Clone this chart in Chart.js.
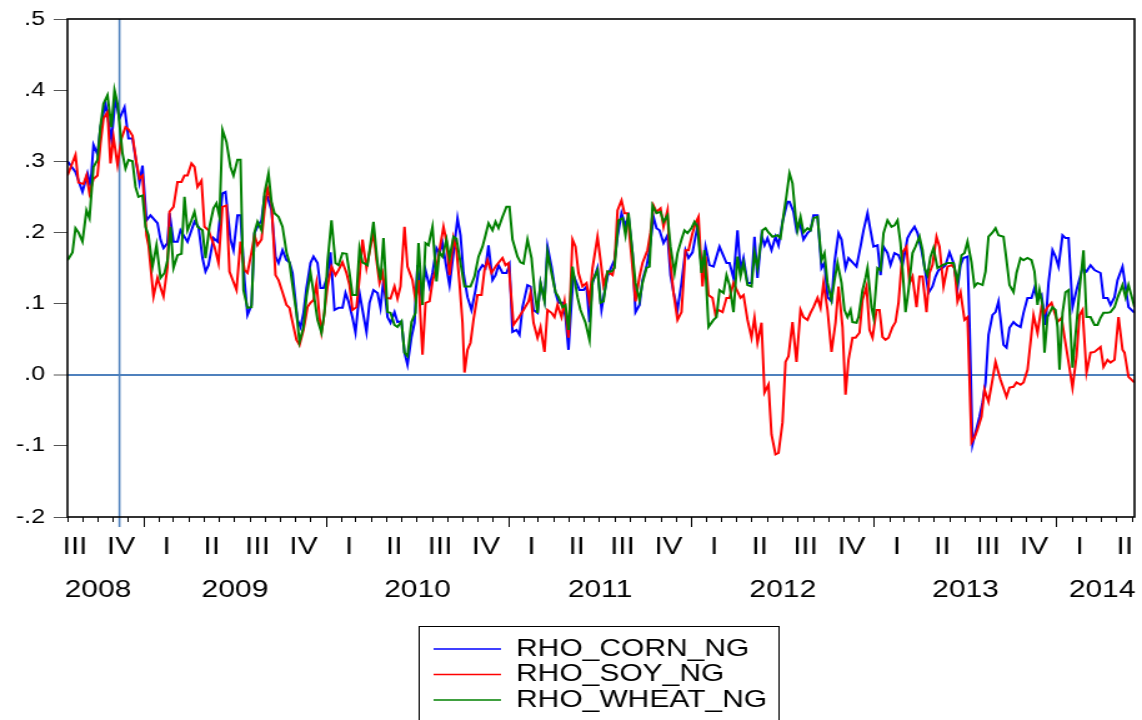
<!DOCTYPE html>
<html>
<head>
<meta charset="utf-8">
<script src="https://cdn.jsdelivr.net/npm/chart.js@4.4.0/dist/chart.umd.min.js"></script>
<style>
    html, body { margin: 0; padding: 0; background: #fff; }
    /* the original picture is stretched sideways, so the canvas is drawn narrow and shown wide */
    #chart { display: block; width: 1142px !important; height: 720px !important; }
</style>
</head>
<body>
<canvas id="chart" width="914" height="720" style="width:1142px;height:720px"></canvas>
<script>
const cornDays = [0,16,30,40,46,52,60,66,76,88,96,104,114,122,130,144,150,158,166,180,186,192,200,204,212,220,226,240,254,262,270,276,282,292,300,310,316,326,332,340,346,354,360,368,374,380,388,394,400,408,416,422,430,438,444,450,460,466,472,478,486,492,500,506,512,520,526,534,542,550,556,562,570,576,584,590,598,604,612,620,626,632,640,646,654,660,668,674,680,688,694,700,708,716,724,730,738,744,750,758,764,772,780,786,792,800,808,816,822,830,836,842,850,856,862,870,878,884,890,898,904,910,920,926,932,940,946,954,960,968,976,982,990,996,1002,1008,1012,1024,1032,1038,1044,1050,1060,1068,1074,1080,1088,1094,1100,1108,1116,1122,1130,1136,1144,1150,1158,1164,1172,1178,1184,1192,1200,1206,1212,1220,1228,1236,1242,1250,1256,1260,1270,1276,1284,1292,1304,1318,1324,1332,1340,1346,1352,1360,1368,1374,1380,1388,1394,1400,1408,1416,1422,1430,1440,1444,1452,1458,1464,1472,1480,1486,1492,1500,1508,1514,1520,1528,1534,1542,1548,1556,1562,1570,1578,1586,1592,1600,1606,1612,1620,1626,1632,1640,1646,1654,1662,1670,1680,1686,1694,1700,1708,1714,1722,1730,1736,1742,1750,1756,1764,1772,1780,1786,1792,1800,1804,1810,1816,1824,1830,1836,1842,1850,1856,1862,1872,1878,1884,1892,1898,1906,1912,1920,1928,1934,1940,1948,1956,1962,1970,1976,1982,1990,1996,2002,2010,2018,2030,2038,2046,2054,2066,2072,2080,2086,2094,2100,2110,2116,2122,2134];
const cornRho = [.30,.285,.257,.283,.265,.323,.31,.348,.381,.33,.388,.36,.376,.332,.332,.27,.294,.217,.224,.213,.19,.178,.185,.227,.187,.187,.203,.187,.215,.208,.164,.145,.154,.192,.187,.255,.257,.19,.175,.224,.224,.133,.084,.098,.199,.208,.217,.25,.25,.231,.166,.157,.175,.161,.158,.143,.077,.067,.087,.122,.157,.166,.157,.122,.122,.138,.172,.091,.094,.094,.115,.103,.08,.059,.115,.091,.06,.101,.119,.115,.094,.133,.081,.073,.088,.074,.075,.031,.014,.053,.073,.154,.109,.147,.124,.143,.178,.171,.185,.15,.126,.171,.22,.196,.143,.109,.091,.119,.145,.154,.15,.182,.133,.14,.154,.143,.143,.154,.06,.063,.056,.095,.126,.124,.091,.087,.129,.105,.18,.152,.115,.101,.101,.081,.035,.101,.14,.119,.119,.124,.074,.129,.15,.091,.116,.138,.152,.161,.194,.227,.21,.222,.171,.088,.098,.133,.152,.175,.222,.206,.203,.185,.196,.14,.116,.091,.129,.175,.164,.172,.194,.208,.14,.18,.154,.152,.18,.157,.157,.136,.203,.147,.164,.129,.129,.194,.136,.196,.182,.192,.175,.194,.182,.215,.243,.243,.229,.203,.215,.19,.199,.203,.224,.224,.15,.157,.109,.103,.158,.199,.19,.15,.164,.158,.152,.18,.203,.227,.203,.18,.182,.14,.18,.171,.154,.171,.168,.154,.192,.2,.208,.199,.175,.152,.115,.124,.138,.147,.15,.154,.172,.157,.122,.154,.164,.166,.073,-.098,-.081,-.059,-.039,-.011,.056,.084,.088,.103,.042,.038,.066,.074,.07,.067,.087,.108,.108,.122,.105,.112,.07,.129,.175,.166,.152,.196,.192,.192,.095,.119,.15,.145,.154,.147,.143,.108,.108,.098,.109,.133,.152,.124,.095,.087];

const soyDays = [0,16,22,32,38,44,52,60,66,72,80,86,92,100,108,116,122,130,138,144,150,158,162,172,180,192,200,204,212,220,228,234,240,248,254,260,268,274,282,294,302,310,318,324,338,346,354,360,368,374,380,388,394,400,408,416,422,430,438,444,450,458,464,472,480,486,492,498,504,508,512,520,528,536,542,550,558,564,570,578,584,590,598,604,612,618,624,630,638,646,654,660,666,674,680,690,696,702,710,716,724,730,738,744,752,758,764,772,778,784,790,794,800,806,812,820,828,834,840,848,858,870,876,882,892,902,912,922,926,932,940,946,954,960,968,974,980,988,994,1002,1010,1016,1022,1030,1038,1044,1050,1060,1066,1072,1080,1090,1094,1100,1108,1114,1120,1128,1136,1144,1150,1160,1166,1172,1178,1186,1192,1200,1204,1212,1220,1228,1236,1242,1250,1256,1262,1270,1276,1282,1290,1296,1302,1310,1318,1324,1332,1346,1352,1360,1368,1374,1380,1388,1394,1402,1408,1416,1422,1430,1436,1442,1450,1458,1466,1472,1480,1486,1492,1500,1506,1512,1520,1528,1536,1542,1550,1556,1562,1570,1576,1584,1590,1598,1604,1610,1618,1624,1630,1636,1642,1650,1656,1662,1670,1678,1684,1690,1698,1704,1710,1718,1724,1730,1738,1744,1752,1760,1768,1774,1780,1786,1794,1800,1808,1814,1820,1828,1834,1842,1850,1856,1866,1878,1884,1892,1898,1906,1912,1920,1932,1940,1948,1954,1960,1968,1980,1988,1994,2002,2010,2018,2024,2030,2038,2046,2054,2066,2072,2080,2086,2094,2102,2110,2114,2122,2134];
const soyRho = [.28,.309,.27,.268,.28,.255,.275,.28,.325,.36,.369,.297,.334,.295,.332,.348,.345,.336,.297,.276,.28,.196,.182,.11,.136,.11,.152,.229,.236,.271,.271,.28,.28,.297,.292,.264,.273,.208,.203,.18,.157,.236,.238,.145,.119,.187,.147,.143,.172,.196,.182,.19,.231,.262,.241,.14,.133,.116,.098,.094,.074,.049,.042,.063,.095,.101,.105,.129,.081,.06,.077,.124,.152,.14,.147,.158,.143,.126,.091,.095,.136,.19,.15,.172,.2,.161,.129,.143,.108,.107,.124,.107,.124,.208,.152,.133,.105,.133,.028,.101,.103,.131,.152,.175,.208,.187,.14,.192,.175,.129,.073,.003,.035,.045,.077,.112,.112,.147,.161,.143,.154,.164,.154,.157,.07,.08,.091,.103,.115,.073,.052,.067,.032,.091,.087,.081,.098,.081,.103,.052,.19,.18,.143,.124,.129,.103,.15,.194,.161,.126,.145,.14,.154,.231,.245,.227,.227,.166,.103,.138,.157,.175,.2,.238,.229,.234,.208,.231,.171,.115,.077,.088,.175,.175,.199,.213,.222,.124,.166,.112,.108,.084,.091,.088,.108,.108,.129,.108,.112,.077,.052,.08,.045,.073,-.025,-.014,-.084,-.112,-.11,-.067,.018,.026,.074,.018,.091,.081,.077,.087,.095,.108,.094,.129,.091,.032,.073,.124,.067,-.028,.021,.052,.052,.059,.105,.124,.063,.052,.091,.091,.053,.049,.052,.067,.074,.101,.172,.18,.129,.138,.095,.138,.138,.088,.143,.154,.194,.18,.124,.152,.154,.15,.103,.116,.077,.081,-.095,-.088,-.077,-.059,-.021,-.038,-.007,.018,-.007,-.031,-.018,-.017,-.011,-.014,-.011,.007,.084,.059,.095,.087,.095,.101,.074,.08,.053,.018,-.018,.026,.084,.091,.003,.031,.032,.039,.011,.021,.017,.021,.081,.035,.031,-.003,-.011];

const wheatDays = [0,10,16,22,30,38,44,52,60,66,72,80,88,94,100,110,116,122,130,136,142,150,156,162,170,178,186,194,200,206,212,220,228,234,240,248,254,260,270,276,284,292,298,304,310,318,326,332,340,346,352,360,368,374,380,388,394,402,408,414,422,430,438,444,450,458,464,472,478,486,492,500,508,514,520,528,536,542,550,558,564,570,578,584,590,600,612,620,626,632,640,646,654,660,668,674,680,688,696,702,710,716,722,730,738,744,750,758,764,772,778,786,794,806,814,822,830,836,842,850,856,862,870,878,884,890,900,906,912,920,928,934,940,946,954,960,968,976,982,990,996,1002,1010,1020,1026,1036,1044,1050,1060,1066,1072,1080,1088,1094,1102,1110,1116,1122,1130,1136,1144,1150,1158,1164,1170,1178,1186,1192,1200,1206,1214,1220,1228,1234,1240,1248,1254,1260,1268,1274,1282,1292,1298,1304,1312,1318,1324,1332,1340,1346,1352,1360,1368,1374,1380,1390,1396,1402,1410,1420,1426,1432,1438,1444,1450,1456,1460,1466,1472,1480,1486,1492,1500,1508,1514,1520,1528,1534,1540,1548,1554,1560,1566,1570,1578,1582,1590,1596,1600,1608,1612,1620,1626,1632,1640,1648,1654,1660,1666,1672,1676,1682,1690,1696,1704,1710,1714,1720,1726,1732,1740,1750,1760,1772,1780,1788,1794,1800,1808,1814,1820,1830,1836,1842,1850,1856,1862,1872,1878,1884,1892,1898,1906,1912,1920,1928,1934,1940,1944,1950,1954,1960,1970,1976,1980,1984,1990,1996,2002,2010,2020,2024,2032,2038,2046,2054,2060,2066,2072,2080,2086,2094,2100,2110,2116,2122,2134];
const wheatRho = [.161,.172,.206,.2,.187,.231,.22,.292,.302,.35,.381,.393,.348,.4,.381,.311,.29,.302,.3,.264,.25,.252,.208,.196,.152,.182,.136,.143,.161,.208,.15,.168,.17,.25,.203,.217,.229,.208,.203,.164,.208,.234,.241,.222,.344,.327,.292,.28,.302,.302,.119,.094,.095,.2,.215,.203,.255,.283,.243,.227,.222,.208,.172,.157,.126,.087,.046,.067,.11,.143,.116,.077,.059,.088,.158,.217,.157,.154,.171,.17,.143,.112,.112,.178,.158,.154,.215,.157,.133,.192,.088,.087,.07,.067,.075,.031,.026,.074,.087,.185,.098,.185,.182,.208,.131,.172,.166,.19,.164,.194,.191,.157,.124,.124,.138,.166,.18,.196,.213,.203,.215,.206,.222,.236,.236,.19,.166,.158,.156,.19,.164,.119,.087,.129,.103,.172,.143,.116,.109,.095,.098,.063,.152,.109,.091,.073,.049,.131,.147,.101,.103,.145,.145,.15,.217,.22,.196,.227,.171,.129,.105,.129,.15,.152,.238,.227,.229,.215,.224,.18,.143,.171,.19,.203,.199,.206,.215,.208,.143,.175,.067,.077,.081,.119,.115,.14,.126,.088,.166,.138,.157,.126,.124,.171,.15,.203,.206,.2,.194,.196,.192,.224,.252,.283,.269,.224,.203,.222,.2,.206,.203,.22,.222,.161,.171,.129,.105,.133,.157,.129,.091,.081,.091,.074,.073,.081,.119,.136,.15,.095,.081,.15,.147,.199,.217,.208,.21,.217,.185,.129,.088,.119,.171,.18,.194,.175,.15,.14,.166,.178,.15,.154,.157,.157,.131,.168,.171,.187,.158,.124,.129,.126,.145,.194,.2,.206,.196,.194,.161,.126,.116,.143,.164,.161,.164,.161,.145,.098,.119,.098,.031,.081,.095,.091,.067,.007,.087,.116,.119,.01,.087,.119,.175,.081,.081,.07,.07,.08,.087,.087,.088,.095,.108,.126,.109,.126,.095];

// axis text: one roman numeral per quarter from 2008 Q3 to 2014 Q2, and the years
const quarterLabels = ['III','IV','I','II','III','IV','I','II','III','IV','I','II','III','IV','I','II','III','IV','I','II','III','IV','I','II'];
const yearLabels = ['2008','2009','2010','2011','2012','2013','2014'];
const firstYear = 2008;
const firstQuarter = 3;
const breakDay = 104; // the vertical marker in 2008 Q4

const origin = Date.UTC(2008, 7, 1);
const dayOf = (y, m) => (Date.UTC(y, m, 1) - origin) / 86400000;
const lastDay = Math.max(cornDays[cornDays.length - 1], soyDays[soyDays.length - 1], wheatDays[wheatDays.length - 1]);

// quarter centres, year boundaries and month boundaries on the day axis
const quarterCenters = quarterLabels.map((q, k) => {
    const n = firstQuarter - 1 + k;
    const y = firstYear + Math.floor(n / 4);
    const m = (n % 4) * 3;
    return { year: y, value: (dayOf(y, m) + dayOf(y, m + 3)) / 2 };
});
const yearCenters = yearLabels.map(label => {
    const qs = quarterCenters.filter(q => q.year === Number(label));
    return (qs[0].value + qs[qs.length - 1].value) / 2;
});
const yearStarts = yearLabels.map(label => dayOf(Number(label), 0)).filter(d => d > 0 && d < lastDay);
const monthStarts = [];
for (let i = 0; dayOf(2008, 7 + i) <= lastDay; i++) monthStarts.push(dayOf(2008, 7 + i));

const toPoints = (days, vals) => days.map((d, i) => ({ x: d, y: vals[i] }));

// eviews style: .5, .0, -.1
const rhoLabel = v => {
    if (Math.abs(v) < 1e-9) return '.0';
    return v.toFixed(1).replace(/^(-?)0\./, '$1.');
};

Chart.defaults.font.family = '"Liberation Sans", Arial, sans-serif';
Chart.defaults.font.size = 24;
Chart.defaults.color = '#000';

// break marker under the lines, black frame over them
const frame = {
    id: 'frame',
    beforeDatasetsDraw(chart) {
        const { ctx, chartArea: a, scales: { x } } = chart;
        const px = x.getPixelForValue(breakDay);
        ctx.save();
        ctx.strokeStyle = '#4f81bd';
        ctx.lineWidth = 1.6;
        ctx.beginPath();
        ctx.moveTo(px, a.top);
        ctx.lineTo(px, a.bottom + 10);
        ctx.stroke();
        ctx.restore();
    },
    afterDatasetsDraw(chart) {
        const { ctx, chartArea: a } = chart;
        ctx.save();
        ctx.strokeStyle = '#000';
        ctx.lineWidth = 1.6;
        ctx.strokeRect(a.left, a.top, a.right - a.left, a.bottom - a.top);
        ctx.restore();
    }
};

// boxed legend under the axis
const boxLegend = {
    id: 'boxLegend',
    afterDraw(chart) {
        const ctx = chart.ctx;
        const left = 335, top = 626;
        ctx.save();
        ctx.strokeStyle = '#000';
        ctx.lineWidth = 1;
        ctx.strokeRect(left + 0.5, top + 0.5, 288, 110);
        ctx.font = '24px "Liberation Sans", Arial, sans-serif';
        ctx.textBaseline = 'middle';
        chart.data.datasets.forEach((ds, i) => {
            const y = top + 23 + i * 25.5;
            ctx.strokeStyle = ds.borderColor;
            ctx.lineWidth = 1.5;
            ctx.beginPath();
            ctx.moveTo(left + 12, y);
            ctx.lineTo(left + 66, y);
            ctx.stroke();
            ctx.fillStyle = '#000';
            ctx.fillText(ds.label, left + 78, y);
        });
        ctx.restore();
    }
};

const isZero = c => c.tick && Math.abs(c.tick.value) < 1e-9;

new Chart(document.getElementById('chart'), {
    type: 'line',
    data: {
        datasets: [
            { label: 'RHO_CORN_NG', data: toPoints(cornDays, cornRho), borderColor: '#0000ff', order: 3 },
            { label: 'RHO_SOY_NG', data: toPoints(soyDays, soyRho), borderColor: '#ff0000', order: 2 },
            { label: 'RHO_WHEAT_NG', data: toPoints(wheatDays, wheatRho), borderColor: '#008000', order: 1 }
        ]
    },
    options: {
        responsive: false,
        animation: false,
        devicePixelRatio: 1,
        elements: {
            line: { borderWidth: 2, tension: 0, fill: false },
            point: { radius: 0 }
        },
        layout: { padding: { left: 0, right: 6, top: 18, bottom: 113 } },
        plugins: { legend: { display: false }, tooltip: { enabled: false } },
        scales: {
            x: {
                type: 'linear', position: 'bottom', weight: 0, min: 0, max: lastDay,
                afterBuildTicks: s => { s.ticks = monthStarts.map(v => ({ value: v })); },
                afterFit: s => { s.height = 5; },
                ticks: { display: false },
                grid: { drawOnChartArea: false, tickLength: 5, tickWidth: 1, tickColor: '#000' },
                border: { display: false }
            },
            xq: {
                type: 'linear', position: 'bottom', weight: 1, min: 0, max: lastDay,
                afterBuildTicks: s => {
                    s.ticks = quarterCenters.map(q => ({ value: q.value })).concat(yearStarts.map(v => ({ value: v })));
                },
                afterFit: s => { s.height = 45; },
                ticks: {
                    autoSkip: false, maxRotation: 0, padding: 6,
                    callback: (v, i) => (i < quarterLabels.length ? quarterLabels[i] : '')
                },
                grid: {
                    drawOnChartArea: false, tickLength: 5, tickWidth: 1,
                    tickColor: c => (c.index >= quarterLabels.length ? '#000' : 'rgba(0,0,0,0)')
                },
                border: { display: false }
            },
            xy: {
                type: 'linear', position: 'bottom', weight: 2, min: 0, max: lastDay,
                afterBuildTicks: s => { s.ticks = yearCenters.map(v => ({ value: v })); },
                afterFit: s => { s.height = 40; },
                ticks: { autoSkip: false, maxRotation: 0, padding: 1, callback: (v, i) => yearLabels[i] },
                grid: { display: false },
                border: { display: false }
            },
            y: {
                position: 'left', min: -0.2, max: 0.5,
                afterFit: s => { s.width = 54; },
                ticks: { stepSize: 0.1, padding: 7, font: { size: 20 }, callback: rhoLabel },
                grid: {
                    tickLength: 11, tickWidth: 1, tickColor: '#555',
                    color: c => (isZero(c) ? '#4f81bd' : 'rgba(0,0,0,0)'),
                    lineWidth: c => (isZero(c) ? 2 : 1)
                },
                border: { display: false }
            }
        }
    },
    plugins: [frame, boxLegend]
});
</script>
</body>
</html>
